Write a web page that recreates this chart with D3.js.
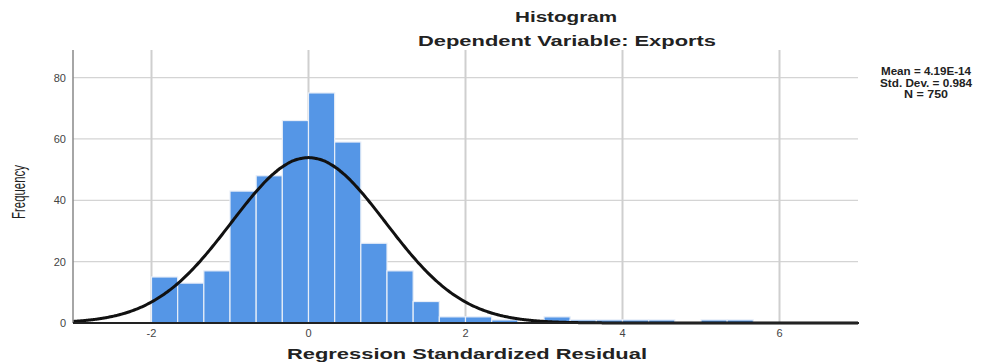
<!DOCTYPE html>
<html lang="en">
<head>
<meta charset="UTF-8">
<title>Histogram</title>
<script src="https://cdn.jsdelivr.net/npm/d3@7"></script>
<style>
  body { margin: 0; background: #fff; }
  text { font-family: "Liberation Sans", Arial, sans-serif; }
</style>
</head>
<body>
<svg id="main" width="1000" height="362"></svg>
<script>
// bins of width 1/3, starting at -2
var binStarts = [-2, -5/3, -4/3, -1, -2/3, -1/3, 0, 1/3, 2/3, 1, 4/3, 5/3, 2, 7/3, 8/3, 3, 10/3, 11/3, 4, 13/3, 14/3, 5, 16/3];
var counts    = [15, 13, 17, 43, 48, 66, 75, 59, 26, 17, 7, 2, 2, 1, 0, 2, 1, 1, 1, 1, 0, 1, 1];
var binWidth = 1/3;
var xTicks = [-2, 0, 2, 4, 6];
var yTicks = [0, 20, 40, 60, 80];
var stats = ["Mean = 4.19E-14", "Std. Dev. = 0.984", "N = 750"];
var mean = 4.19e-14, sd = 0.984;

var svg = d3.select('svg#main');
var margin = {left: 73, right: 142, top: 50, bottom: 39};
var width = 1000 - margin.left - margin.right;
var height = 362 - margin.top - margin.bottom;

var x = d3.scaleLinear().domain([-3, 7]).range([margin.left, margin.left + width]);
var y = d3.scaleLinear().domain([0, 89]).range([margin.top + height, margin.top]);

// grid
svg.append('g').selectAll('line.h')
  .data(yTicks.filter(d => d > 0)).enter().append('line')
  .attr('x1', x(-3)).attr('x2', x(7))
  .attr('y1', d => y(d)).attr('y2', d => y(d))
  .attr('stroke', '#d4d4d4').attr('stroke-width', 1.2);
svg.append('g').selectAll('line.v')
  .data(xTicks).enter().append('line')
  .attr('x1', d => x(d)).attr('x2', d => x(d))
  .attr('y1', y(89)).attr('y2', y(0))
  .attr('stroke', '#cfcfcf').attr('stroke-width', 2);

// bars
svg.append('g').selectAll('rect')
  .data(binStarts.map((b, i) => ({x0: b, n: counts[i]})).filter(d => d.n > 0))
  .enter().append('rect')
  .attr('x', d => x(d.x0))
  .attr('width', d => x(d.x0 + binWidth) - x(d.x0))
  .attr('y', d => y(d.n))
  .attr('height', d => y(0) - y(d.n))
  .attr('fill', '#5596e6')
  .attr('stroke', '#e8eef8').attr('stroke-width', 1.2);

// normal curve
var total = d3.sum(counts);
var pts = d3.range(-3, 7.001, 0.02);
var line = d3.line()
  .x(d => x(d))
  .y(d => y(total * binWidth / (sd * Math.sqrt(2 * Math.PI)) * Math.exp(-0.5 * Math.pow((d - mean) / sd, 2))))
  .curve(d3.curveBasis);
svg.append('path').datum(pts)
  .attr('d', line)
  .attr('fill', 'none').attr('stroke', '#111').attr('stroke-width', 3);

// axes
svg.append('line')
  .attr('x1', x(-3)).attr('x2', x(-3)).attr('y1', y(89)).attr('y2', y(0))
  .attr('stroke', '#888').attr('stroke-width', 1.5);
svg.append('line')
  .attr('x1', x(-3)).attr('x2', x(7) + 1).attr('y1', y(0)).attr('y2', y(0))
  .attr('stroke', '#222').attr('stroke-width', 2);

svg.append('g').selectAll('text')
  .data(yTicks).enter().append('text')
  .attr('x', x(-3) - 7).attr('y', d => y(d) + 4)
  .attr('text-anchor', 'end')
  .attr('font-size', 11).attr('fill', '#444')
  .text(d => d);
svg.append('g').selectAll('text')
  .data(xTicks).enter().append('text')
  .attr('x', d => x(d)).attr('y', y(0) + 14)
  .attr('text-anchor', 'middle')
  .attr('font-size', 11).attr('fill', '#444')
  .text(d => d);

// titles
function label(txt, cx, cy, size, len) {
  return svg.append('text')
    .attr('x', cx - len / 2).attr('y', cy)
    .attr('font-size', size).attr('font-weight', 'bold').attr('fill', '#222')
    .attr('textLength', len).attr('lengthAdjust', 'spacingAndGlyphs')
    .text(txt);
}
label('Histogram', 566, 22, 14, 102);
label('Dependent Variable: Exports', 567, 46, 14, 298);
label('Regression Standardized Residual', 467, 359, 15, 360);

svg.append('text')
  .attr('transform', 'translate(25,192) rotate(-90)')
  .attr('text-anchor', 'middle')
  .attr('font-size', 19).attr('fill', '#222')
  .attr('textLength', 54).attr('lengthAdjust', 'spacingAndGlyphs')
  .text('Frequency');

svg.append('g').selectAll('text')
  .data(stats).enter().append('text')
  .attr('x', d => 926 - [90, 92, 44][stats.indexOf(d)] / 2)
  .attr('y', (d, i) => 75 + i * 11.5)
  .attr('font-size', 10).attr('font-weight', 'bold').attr('fill', '#222')
  .attr('textLength', (d, i) => [90, 92, 44][i])
  .attr('lengthAdjust', 'spacingAndGlyphs')
  .text(d => d);
</script>
</body>
</html>
